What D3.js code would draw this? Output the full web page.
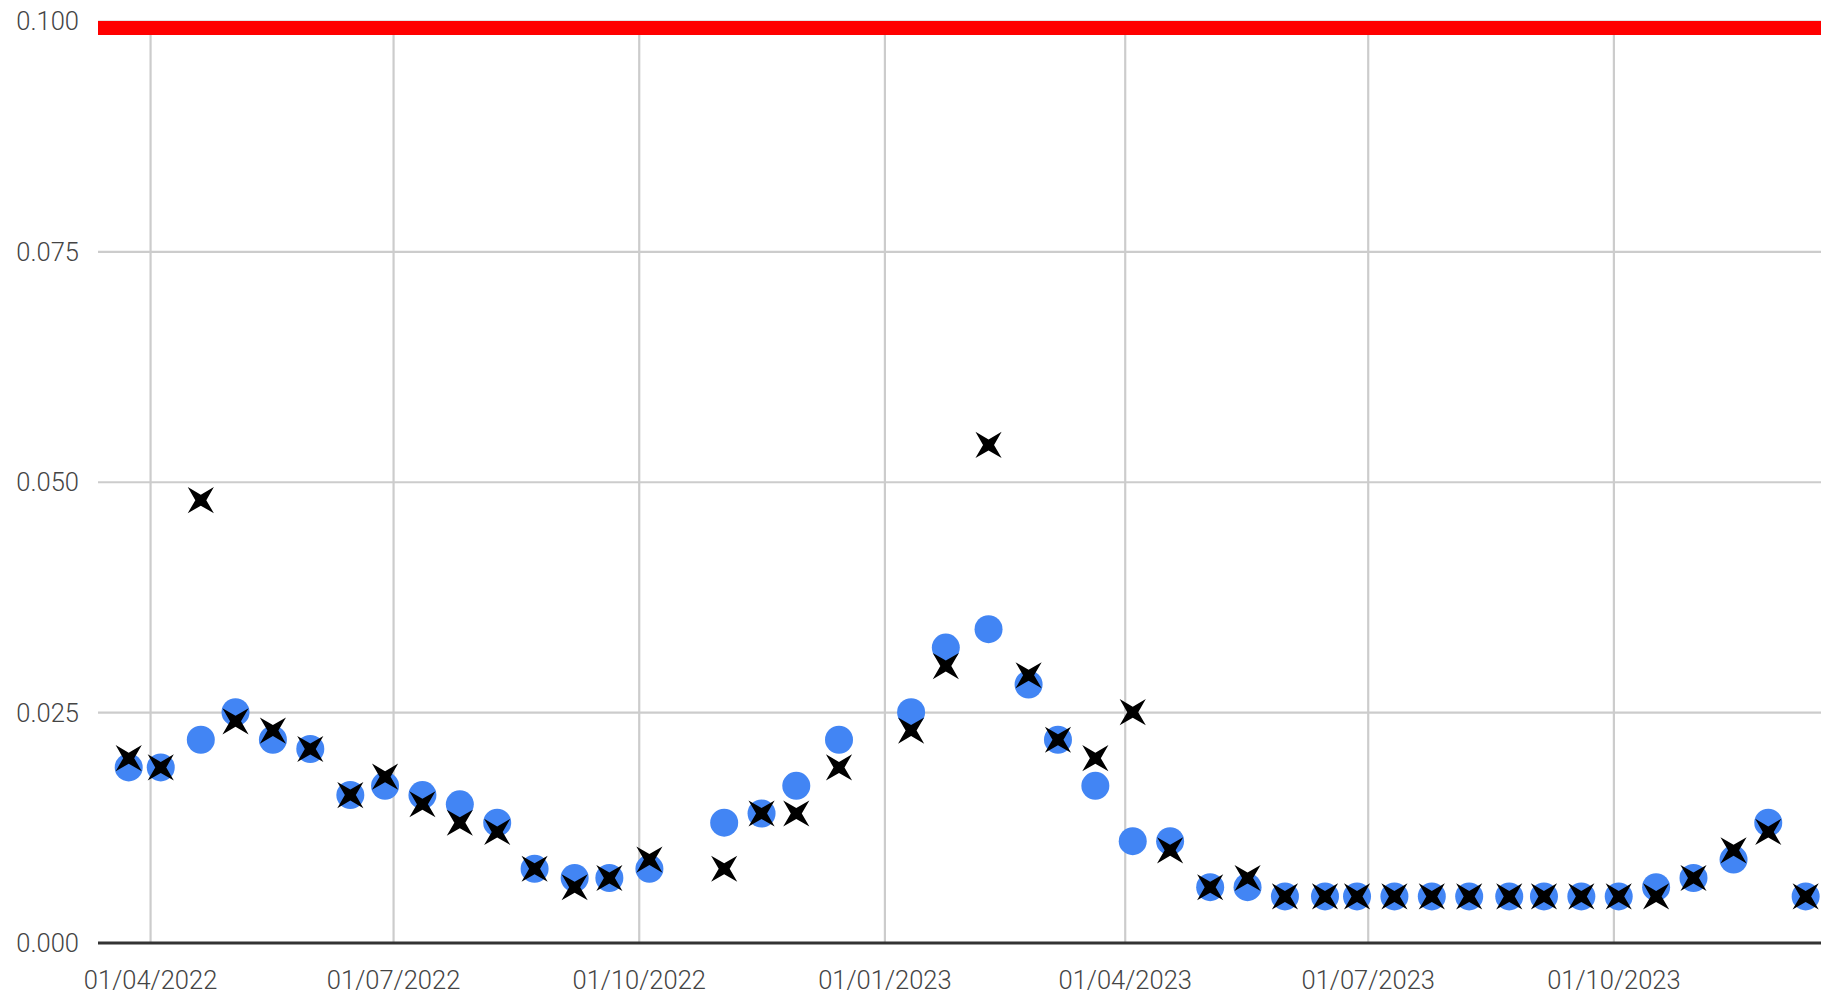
<!DOCTYPE html>
<html>
<head>
<meta charset="utf-8">
<script src="https://cdn.jsdelivr.net/npm/d3@7"></script>
<style>
  html, body { margin: 0; padding: 0; background: #fff; }
  svg { display: block; }
  .tick text { font-family: Roboto, "Liberation Sans", Arial, sans-serif; font-size: 25.5px; font-weight: 300; fill: #444; }
</style>
</head>
<body>
<svg id="chart" width="1821" height="995"></svg>
<script>
// ---- data ----
const dates = [
  "2022-03-24","2022-04-05","2022-04-20","2022-05-03","2022-05-17","2022-05-31",
  "2022-06-15","2022-06-28","2022-07-12","2022-07-26","2022-08-09","2022-08-23",
  "2022-09-07","2022-09-20","2022-10-05","2022-11-02","2022-11-16","2022-11-29",
  "2022-12-15","2023-01-11","2023-01-24","2023-02-09","2023-02-24","2023-03-07",
  "2023-03-21","2023-04-04","2023-04-18","2023-05-03","2023-05-17","2023-05-31",
  "2023-06-15","2023-06-27","2023-07-11","2023-07-25","2023-08-08","2023-08-23",
  "2023-09-05","2023-09-19","2023-10-03","2023-10-17","2023-10-31","2023-11-15",
  "2023-11-28","2023-12-12"
];
const seriesDots = [
  0.019,0.019,0.022,0.025,0.022,0.021,
  0.016,0.017,0.016,0.015,0.013,0.008,
  0.007,0.007,0.008,0.013,0.014,0.017,
  0.022,0.025,0.032,0.034,0.028,0.022,
  0.017,0.011,0.011,0.006,0.006,0.005,
  0.005,0.005,0.005,0.005,0.005,0.005,
  0.005,0.005,0.005,0.006,0.007,0.009,
  0.013,0.005
];
const seriesCrosses = [
  0.020,0.019,0.048,0.024,0.023,0.021,
  0.016,0.018,0.015,0.013,0.012,0.008,
  0.006,0.007,0.009,0.008,0.014,0.014,
  0.019,0.023,0.030,0.054,0.029,0.022,
  0.020,0.025,0.010,0.006,0.007,0.005,
  0.005,0.005,0.005,0.005,0.005,0.005,
  0.005,0.005,0.005,0.005,0.007,0.010,
  0.012,0.005
];
const yTicks = [0, 0.025, 0.05, 0.075, 0.1];
const xTicks = ["2022-04-01","2022-07-01","2022-10-01","2023-01-01","2023-04-01","2023-07-01","2023-10-01"];
const threshold = [0.1];
const xDomain = ["2022-03-12T12:00:00Z", "2023-12-17T18:00:00Z"];

// ---- layout ----
const W = 1821, H = 995;
const plot = { left: 98, right: 1821, top: 21, bottom: 942.5 };

const svg = d3.select("#chart");
const parse = s => new Date(s.length === 10 ? s + "T00:00:00Z" : s);

const x = d3.scaleUtc().domain(xDomain.map(parse)).range([plot.left, plot.right]);
const y = d3.scaleLinear().domain([0, 0.1]).range([plot.bottom, plot.top]);

svg.append("defs").append("clipPath").attr("id", "plotclip")
  .append("rect").attr("x", plot.left).attr("y", plot.top)
  .attr("width", plot.right - plot.left).attr("height", plot.bottom - plot.top);

// x axis with vertical gridlines
const gx = svg.append("g").attr("transform", `translate(0,${plot.bottom})`)
  .call(d3.axisBottom(x).tickValues(xTicks.map(parse))
    .tickFormat(d3.utcFormat("%d/%m/%Y"))
    .tickSize(-(plot.bottom - plot.top)).tickPadding(28));
gx.select(".domain").remove();
gx.selectAll(".tick line").attr("stroke", "#cccccc").attr("stroke-width", 2.2);

// y axis with horizontal gridlines
const gy = svg.append("g").attr("transform", `translate(${plot.left},0)`)
  .call(d3.axisLeft(y).tickValues(yTicks).tickFormat(d3.format(".3f"))
    .tickSize(-(plot.right - plot.left)).tickPadding(19));
gy.select(".domain").remove();
gy.selectAll(".tick line").attr("stroke", d => d === 0 ? "#333333" : "#cccccc")
  .attr("stroke-width", d => d === 0 ? 3 : 2.2);
gy.selectAll(".tick text").attr("dy", "0.35em");

// threshold line (clipped to plot area)
svg.append("g").attr("clip-path", "url(#plotclip)")
  .selectAll("line").data(threshold).join("line")
  .attr("x1", plot.left).attr("x2", plot.right)
  .attr("y1", d => y(d)).attr("y2", d => y(d))
  .attr("stroke", "#ff0000").attr("stroke-width", 28);

const pts = dates.map((d, i) => ({ date: parse(d), dot: seriesDots[i], cross: seriesCrosses[i] }));

// blue dots
svg.append("g").selectAll("circle").data(pts).join("circle")
  .attr("cx", d => x(d.date)).attr("cy", d => y(d.dot))
  .attr("r", 14).attr("fill", "#4285f4");

// black 4-point star crosses
const R = 18.5, r = 5.5;
const starPts = [];
for (let k = 0; k < 8; k++) {
  const a = Math.PI / 4 + k * Math.PI / 4;
  const rad = k % 2 === 0 ? R : r;
  starPts.push([rad * Math.cos(a), rad * Math.sin(a)]);
}
const starPath = "M" + starPts.map(p => p[0].toFixed(2) + "," + p[1].toFixed(2)).join("L") + "Z";

svg.append("g").selectAll("path").data(pts).join("path")
  .attr("transform", d => `translate(${x(d.date)},${y(d.cross)})`)
  .attr("d", starPath).attr("fill", "#000");
</script>
</body>
</html>
